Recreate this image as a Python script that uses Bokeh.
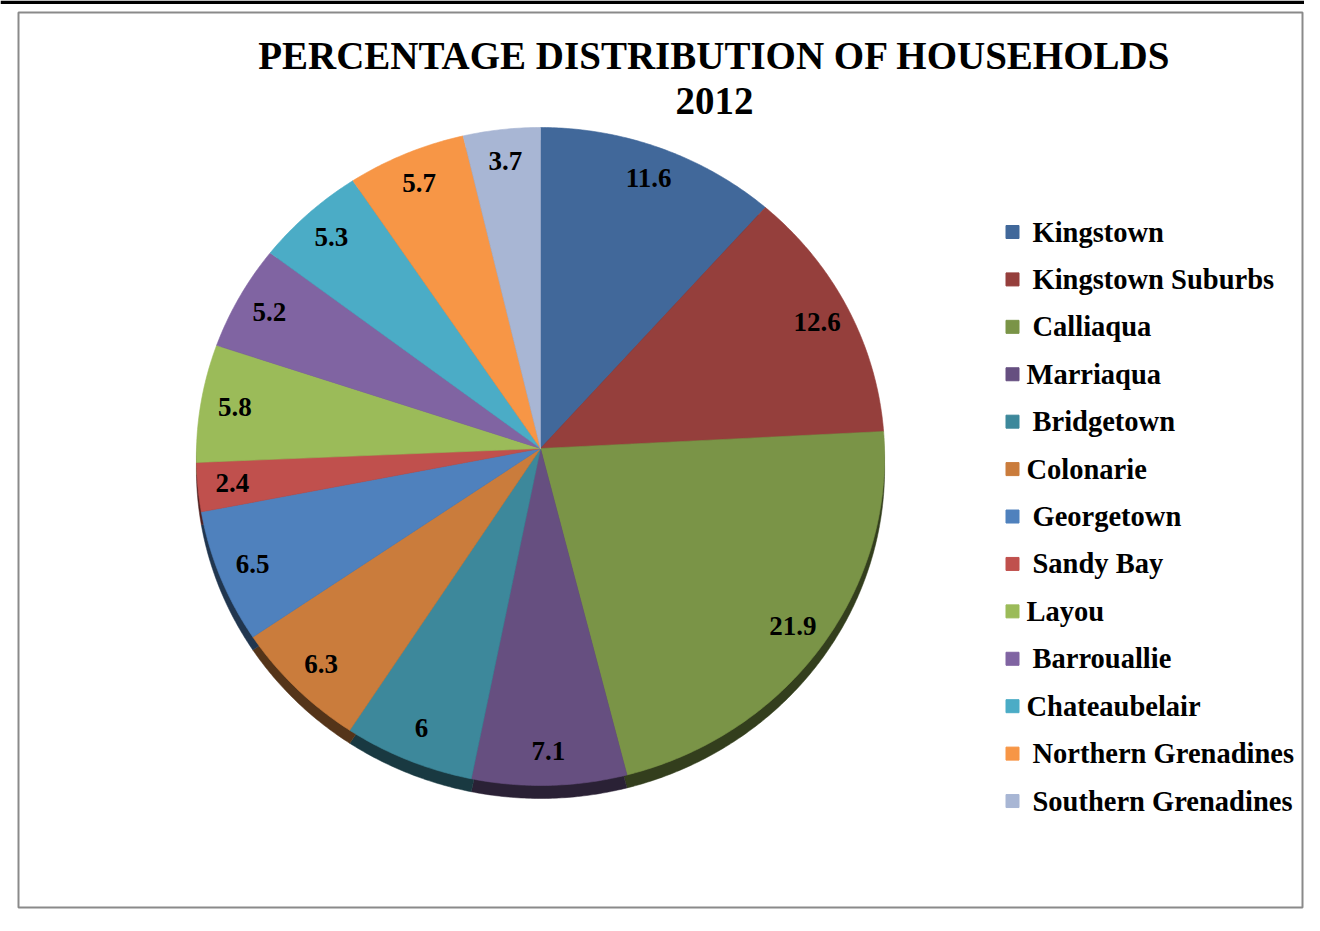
import numpy as np
from bokeh.plotting import figure
from bokeh.models import Range1d
from bokeh.core.properties import value
from bokeh.embed import file_html
from bokeh.resources import INLINE

# ---------------- data ----------------
categories = ["Kingstown", "Kingstown Suburbs", "Calliaqua", "Marriaqua", "Bridgetown",
              "Colonarie", "Georgetown", "Sandy Bay", "Layou", "Barrouallie",
              "Chateaubelair", "Northern Grenadines", "Southern Grenadines"]
values = [11.6, 12.6, 21.9, 7.1, 6, 6.3, 6.5, 2.4, 5.8, 5.2, 5.3, 5.7, 3.7]
value_labels = ["11.6", "12.6", "21.9", "7.1", "6", "6.3", "6.5", "2.4", "5.8", "5.2", "5.3", "5.7", "3.7"]
title_lines = ["PERCENTAGE DISTRIBUTION OF HOUSEHOLDS", "2012"]

# ---------------- styles ----------------
colors = ["#41689A", "#953F3C", "#7A9447", "#664F80", "#3D889B", "#CA7C3C", "#4F81BD",
          "#C0504D", "#9BBB59", "#8064A2", "#4BACC6", "#F79646", "#A8B6D4"]


def darken(hexc, f=0.42):
    r, g, b = int(hexc[1:3], 16), int(hexc[3:5], 16), int(hexc[5:7], 16)
    return "#%02x%02x%02x" % (int(r * f), int(g * f), int(b * f))


rim_colors = [darken(c) for c in colors]
legend_indent = [0, 0, 0, -6, 0, -6, 0, 0, -6, 0, -6, 0, 0]
FONT = value("Liberation Serif")

# ---------------- geometry (tilted pie projection) ----------------
CX, CY = 540.0, 448.0
RX = 344.0
A, B = 328.8, -0.0243
DEPTH = 13.0


def proj(theta, r):
    u = r * np.sin(theta)
    v = -r * np.cos(theta)
    den = 1.0 + B * v
    return CX + RX * u / den, CY + A * v / den


vals = np.array(values, dtype=float)
fr = vals / vals.sum()
ends = np.cumsum(fr) * 2 * np.pi
starts = ends - fr * 2 * np.pi

face_xs, face_ys, rim_xs, rim_ys = [], [], [], []
for s, e in zip(starts, ends):
    n = max(4, int((e - s) / (2 * np.pi) * 720))
    th = np.linspace(s, e, n)
    ex, ey = proj(th, 1.0)
    xs = [CX] + list(ex)
    ys = [CY] + list(ey)
    face_xs.append(xs)
    face_ys.append(ys)
    rim_xs.append(xs)
    rim_ys.append([y + DEPTH for y in ys])

mid = (starts + ends) / 2
lx, ly = proj(mid, 0.9)

# ---------------- figure ----------------
W, H = 1304, 915
p = figure(width=W, height=H, x_range=Range1d(0, W), y_range=Range1d(H, 0),
           output_backend="svg", toolbar_location=None, min_border=0)
p.axis.visible = False
p.grid.visible = False
p.outline_line_color = None
p.background_fill_color = "white"
p.border_fill_color = "white"

# page rule and frame
p.quad(left=[0], right=[W], top=[0], bottom=[3.5], fill_color="black", line_color=None)
p.quad(left=[18], right=[1302], top=[12], bottom=[907], fill_color=None,
       line_color="#8a8a8a", line_width=2)

# pie rim then faces
p.patches(rim_xs, rim_ys, fill_color=rim_colors, line_color=rim_colors, line_width=0.5)
p.patches(face_xs, face_ys, fill_color=colors, line_color=colors, line_width=0.6)

# data labels
p.text(x=list(lx), y=list(ly), text=value_labels, text_font=FONT, text_font_style="bold",
       text_font_size="27px", text_align="center", text_baseline="middle", text_color="black")

# title
p.text(x=[714, 714], y=[55, 100], text=title_lines, text_font=FONT, text_font_style="bold",
       text_font_size="39px", text_align="center", text_baseline="middle", text_color="black")

# legend
idx = np.arange(len(categories))
leg_y = 231.5 + idx * 47.42
p.scatter(x=[1012] * len(categories), y=list(leg_y), marker="square", size=13,
          fill_color=colors, line_color=colors)
p.text(x=[1032 + d for d in legend_indent], y=list(leg_y), text=categories, text_font=FONT,
       text_font_style="bold", text_font_size="28.5px", text_align="left",
       text_baseline="middle", text_color="black")

open("out.html", "w").write(file_html(p, INLINE))
